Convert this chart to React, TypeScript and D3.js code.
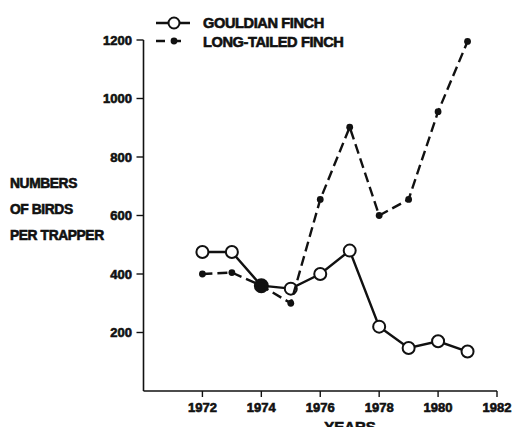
import React from "react";
import { scaleLinear, line } from "d3";

const years = [1972, 1973, 1974, 1975, 1976, 1977, 1978, 1979, 1980, 1981];
const gouldian = [475, 475, 360, 350, 400, 480, 220, 147, 170, 135];
const longTailed = [400, 405, 360, 300, 655, 902, 600, 655, 955, 1195];
const xTicks = [1972, 1974, 1976, 1978, 1980, 1982];
const yTicks = [200, 400, 600, 800, 1000, 1200];
const yLabel = ["NUMBERS", "OF BIRDS", "PER TRAPPER"];
const seriesNames = ["GOULDIAN FINCH", "LONG-TAILED FINCH"];

const W = 513;
const H = 427;
const ink = "#111";
const font = "'Liberation Sans', Arial, sans-serif";

export default function App() {
  const x = scaleLinear().domain([1970, 1982]).range([143.5, 497]);
  const y = scaleLinear().domain([0, 1200]).range([391, 40]);

  const path = line<number>()
    .x((_, i) => x(years[i]))
    .y((d) => y(d));

  // heavy print look for all labels
  const txt = { fill: ink, stroke: ink, strokeWidth: 0.6 };

  return (
    <svg
      width={W}
      height={H}
      style={{ position: "absolute", left: 0, top: 0, background: "#fff" }}
      fontFamily={font}
      fontWeight="bold"
    >
      {/* axes */}
      <line x1={x(1970)} x2={x(1970)} y1={y(1200)} y2={y(0)} stroke={ink} strokeWidth={1.6} />
      <line x1={x(1970)} x2={x(1982)} y1={y(0)} y2={y(0)} stroke={ink} strokeWidth={1.6} />
      {yTicks.map((t) => (
        <g key={t}>
          <line x1={x(1970) - 7} x2={x(1970)} y1={y(t)} y2={y(t)} stroke={ink} strokeWidth={1.4} />
          <text x={132} y={y(t) + 4.5} textAnchor="end" fontSize={13} {...txt}>
            {t}
          </text>
        </g>
      ))}
      {xTicks.map((t) => (
        <g key={t}>
          <line x1={x(t)} x2={x(t)} y1={y(0)} y2={y(0) + 6} stroke={ink} strokeWidth={1.4} />
          <text x={x(t)} y={412} textAnchor="middle" fontSize={13} {...txt}>
            {t}
          </text>
        </g>
      ))}
      <text x={350} y={432} textAnchor="middle" fontSize={15} {...txt}>
        YEARS
      </text>
      {yLabel.map((s, i) => (
        <text key={s} x={10} y={188 + i * 26} fontSize={13.8} letterSpacing={-0.4} {...txt}>
          {s}
        </text>
      ))}

      {/* series */}
      <path d={path(gouldian) || ""} fill="none" stroke={ink} strokeWidth={2.4} />
      {gouldian.map((v, i) => (
        <circle
          key={i}
          cx={x(years[i])}
          cy={y(v)}
          r={v === longTailed[i] ? 6.5 : 6}
          fill={v === longTailed[i] ? ink : "#fff"}
          stroke={ink}
          strokeWidth={2}
        />
      ))}
      <path
        d={path(longTailed) || ""}
        fill="none"
        stroke={ink}
        strokeWidth={2.4}
        strokeDasharray="10,5"
      />
      {longTailed.map((v, i) => (
        <circle key={i} cx={x(years[i])} cy={y(v)} r={3.4} fill={ink} />
      ))}

      {/* legend */}
      <line x1={156} x2={190} y1={23} y2={23} stroke={ink} strokeWidth={2.4} />
      <circle cx={174} cy={23} r={5.5} fill="#fff" stroke={ink} strokeWidth={2} />
      <line x1={156} x2={190} y1={41} y2={41} stroke={ink} strokeWidth={2.4} strokeDasharray="9,7,9" />
      <circle cx={174} cy={41} r={3.4} fill={ink} />
      {seriesNames.map((s, i) => (
        <text key={s} x={203} y={28 + i * 19} fontSize={14.6} letterSpacing={-0.4} {...txt}>
          {s}
        </text>
      ))}
    </svg>
  );
}
